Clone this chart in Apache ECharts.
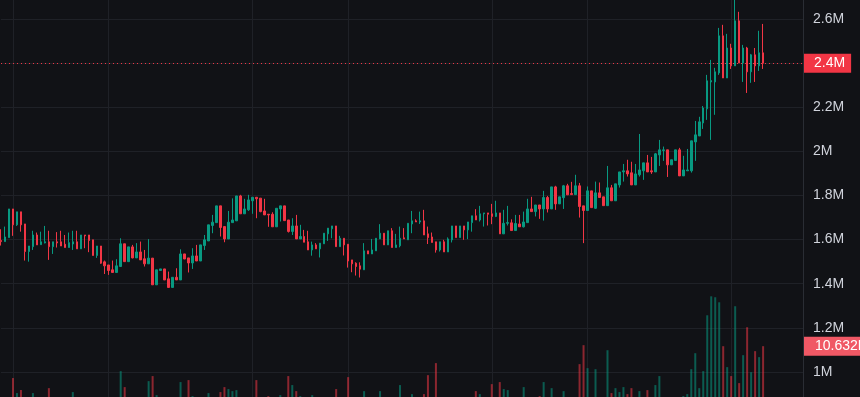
<!DOCTYPE html>
<html>
<head>
<meta charset="utf-8">
<script src="https://cdn.jsdelivr.net/npm/echarts@6/dist/echarts.min.js"></script>
<style>
    html, body { margin: 0; padding: 0; background: #111216; }
    #chart { width: 860px; height: 397px; }
</style>
</head>
<body>
<div id="chart"></div>
<script>
// Daily candles, [open, close, low, high], in thousands
const ohlc = [
    [1596, 1591, 1573, 1647], [1591, 1612, 1591, 1659], [1609, 1739, 1609, 1739], [1739, 1667, 1617, 1739],
    [1667, 1726, 1662, 1726], [1726, 1667, 1636, 1726], [1671, 1546, 1505, 1671], [1546, 1571, 1500, 1571],
    [1568, 1621, 1553, 1640], [1621, 1576, 1576, 1632], [1577, 1590, 1577, 1636], [1585, 1590, 1583, 1662],
    [1590, 1568, 1508, 1640], [1568, 1590, 1535, 1590], [1590, 1585, 1564, 1634], [1590, 1571, 1571, 1640],
    [1579, 1564, 1564, 1621], [1564, 1586, 1564, 1632], [1580, 1590, 1553, 1640], [1590, 1558, 1558, 1640],
    [1558, 1621, 1558, 1621], [1621, 1617, 1561, 1621], [1621, 1596, 1543, 1621], [1599, 1528, 1528, 1599],
    [1528, 1571, 1517, 1571], [1571, 1493, 1490, 1571], [1499, 1481, 1444, 1505], [1485, 1460, 1440, 1485],
    [1463, 1451, 1451, 1505], [1451, 1481, 1451, 1511], [1478, 1581, 1478, 1606], [1581, 1500, 1500, 1581],
    [1500, 1567, 1500, 1567], [1567, 1517, 1515, 1576], [1517, 1544, 1517, 1584], [1544, 1508, 1508, 1591],
    [1513, 1490, 1478, 1553], [1490, 1516, 1490, 1602], [1516, 1395, 1395, 1516], [1395, 1463, 1395, 1463],
    [1460, 1467, 1460, 1467], [1467, 1417, 1417, 1467], [1422, 1383, 1383, 1455], [1383, 1429, 1383, 1429],
    [1429, 1417, 1417, 1470], [1417, 1535, 1417, 1556], [1535, 1512, 1512, 1535], [1517, 1494, 1451, 1517],
    [1494, 1526, 1467, 1561], [1526, 1503, 1503, 1576], [1503, 1576, 1503, 1576], [1573, 1599, 1553, 1621],
    [1594, 1667, 1594, 1667], [1664, 1679, 1629, 1712], [1677, 1753, 1677, 1753], [1753, 1655, 1614, 1753],
    [1659, 1603, 1588, 1659], [1603, 1679, 1603, 1730], [1677, 1689, 1677, 1787], [1685, 1798, 1685, 1798],
    [1798, 1717, 1717, 1803], [1717, 1739, 1717, 1785], [1735, 1780, 1730, 1803], [1776, 1792, 1717, 1792],
    [1792, 1785, 1697, 1792], [1788, 1727, 1724, 1788], [1730, 1712, 1712, 1785], [1715, 1712, 1658, 1715],
    [1715, 1658, 1658, 1724], [1658, 1742, 1658, 1742], [1739, 1753, 1682, 1753], [1753, 1686, 1686, 1753],
    [1689, 1637, 1632, 1689], [1637, 1662, 1621, 1697], [1662, 1603, 1603, 1712], [1603, 1614, 1603, 1667],
    [1614, 1588, 1588, 1644], [1590, 1553, 1553, 1640], [1553, 1576, 1527, 1591], [1576, 1558, 1558, 1584],
    [1558, 1584, 1519, 1584], [1581, 1629, 1581, 1629], [1626, 1652, 1594, 1652], [1649, 1662, 1606, 1662],
    [1662, 1568, 1568, 1662], [1568, 1606, 1568, 1617], [1606, 1576, 1528, 1606], [1579, 1503, 1473, 1579],
    [1508, 1490, 1452, 1508], [1493, 1478, 1437, 1497], [1481, 1466, 1428, 1497], [1463, 1549, 1463, 1584],
    [1549, 1535, 1535, 1549], [1535, 1553, 1535, 1603], [1549, 1606, 1549, 1606], [1603, 1629, 1603, 1670],
    [1629, 1576, 1576, 1629], [1576, 1640, 1576, 1640], [1640, 1564, 1564, 1652], [1564, 1576, 1564, 1626],
    [1572, 1606, 1565, 1659], [1608, 1603, 1603, 1652], [1599, 1674, 1599, 1674], [1671, 1685, 1629, 1730],
    [1685, 1680, 1680, 1692], [1680, 1685, 1671, 1727], [1685, 1621, 1621, 1735], [1626, 1609, 1580, 1659],
    [1612, 1587, 1587, 1632], [1590, 1553, 1541, 1590], [1553, 1590, 1546, 1590], [1590, 1544, 1544, 1599],
    [1544, 1603, 1544, 1610], [1599, 1662, 1587, 1662], [1662, 1609, 1609, 1662], [1609, 1662, 1609, 1662],
    [1662, 1644, 1599, 1662], [1644, 1680, 1602, 1680], [1677, 1708, 1636, 1708], [1708, 1689, 1689, 1738],
    [1689, 1717, 1682, 1753], [1717, 1721, 1659, 1721], [1721, 1715, 1664, 1721], [1717, 1705, 1670, 1762],
    [1705, 1721, 1702, 1776], [1721, 1626, 1626, 1721], [1626, 1674, 1626, 1735], [1674, 1677, 1664, 1753],
    [1676, 1641, 1641, 1692], [1641, 1673, 1641, 1712], [1671, 1658, 1658, 1712], [1658, 1680, 1655, 1727],
    [1677, 1739, 1677, 1785], [1739, 1727, 1727, 1794], [1727, 1757, 1705, 1757], [1757, 1739, 1694, 1757],
    [1739, 1791, 1686, 1821], [1791, 1739, 1723, 1798], [1739, 1839, 1739, 1839], [1839, 1762, 1735, 1844],
    [1762, 1794, 1762, 1794], [1790, 1844, 1739, 1848], [1844, 1803, 1803, 1853], [1809, 1804, 1804, 1862],
    [1804, 1844, 1804, 1894], [1844, 1750, 1700, 1857], [1753, 1732, 1584, 1753], [1732, 1821, 1732, 1841],
    [1821, 1745, 1745, 1821], [1742, 1812, 1739, 1863], [1812, 1791, 1791, 1859], [1794, 1754, 1754, 1794],
    [1754, 1835, 1754, 1934], [1835, 1776, 1776, 1848], [1776, 1853, 1776, 1853], [1848, 1907, 1836, 1907],
    [1907, 1912, 1863, 1943], [1912, 1898, 1886, 1962], [1903, 1848, 1848, 1953], [1848, 1898, 1848, 1943],
    [1894, 1916, 1886, 2079], [1912, 1948, 1871, 1948], [1948, 1907, 1907, 1984], [1912, 1907, 1898, 1975],
    [1907, 1989, 1907, 1993], [1984, 2007, 1934, 2052], [2004, 2007, 1957, 2022], [2007, 1939, 1884, 2007],
    [1939, 1962, 1939, 1962], [1959, 2007, 1959, 2007], [2007, 1889, 1889, 2016], [1889, 1916, 1889, 1980],
    [1912, 1916, 1912, 2011], [1912, 2048, 1904, 2048], [2043, 2075, 1957, 2138], [2070, 2134, 2070, 2157],
    [2129, 2197, 2102, 2206], [2193, 2320, 2143, 2347], [2315, 2321, 2052, 2415], [2315, 2361, 2166, 2379],
    [2356, 2524, 2347, 2560], [2524, 2333, 2333, 2574], [2333, 2469, 2333, 2533], [2469, 2388, 2374, 2488],
    [2388, 2592, 2388, 2687], [2592, 2401, 2401, 2633], [2401, 2469, 2315, 2483], [2469, 2361, 2265, 2474],
    [2361, 2438, 2311, 2442], [2438, 2388, 2315, 2469], [2388, 2447, 2365, 2547], [2447, 2400, 2374, 2578]
];

// Volume per candle, in millions
const volumes = [
    3.8, 4.1, 4.4, 6.9, 5.14, 5.5, 4.3, 3.9, 5.14, 3.5,
    3.2, 3.6, 5.72, 3.4, 3.1, 3.3, 2.9, 3.5, 5.26, 3.7,
    4.2, 3.0, 3.8, 4.3, 3.6, 4.4, 3.9, 3.7, 3.2, 3.5,
    7.71, 5.84, 4.2, 3.6, 3.3, 3.9, 4.1, 6.54, 7.13, 4.9,
    3.1, 4.0, 4.3, 3.8, 3.4, 6.43, 3.7, 6.66, 4.79, 3.9,
    4.2, 3.6, 5.14, 3.8, 4.4, 5.26, 5.84, 5.61, 5.37, 5.49,
    4.3, 3.5, 4.1, 3.7, 6.66, 4.2, 3.6, 4.79, 4.0, 4.4,
    4.9, 4.1, 7.13, 6.08, 5.37, 4.79, 3.8, 4.3, 4.9, 3.4,
    4.1, 4.0, 3.6, 3.3, 5.61, 3.9, 4.2, 7.01, 4.4, 4.0,
    4.3, 5.37, 3.5, 3.8, 4.2, 5.37, 3.9, 4.1, 4.4, 3.6,
    6.08, 3.7, 4.3, 5.02, 3.2, 3.5, 5.02, 7.24, 4.4, 8.65,
    4.2, 4.0, 4.3, 4.1, 3.8, 3.6, 3.4, 4.2, 4.0, 5.37,
    5.02, 3.5, 3.3, 6.19, 4.2, 6.43, 5.61, 5.49, 4.1, 3.9,
    3.6, 5.84, 4.4, 3.8, 3.7, 4.79, 6.43, 4.2, 5.72, 4.4,
    4.1, 5.37, 4.0, 3.6, 4.3, 8.53, 10.75, 8.06, 4.5, 7.94,
    4.2, 4.4, 10.16, 5.14, 5.72, 5.26, 5.84, 5.02, 5.72, 4.3,
    5.37, 4.4, 5.49, 4.0, 6.08, 7.13, 4.2, 4.4, 3.9, 4.1,
    4.5, 4.79, 5.02, 7.94, 9.81, 5.72, 7.71, 14.25, 16.47, 16.36,
    15.77, 10.63, 8.18, 7.13, 15.31, 6.31, 9.58, 12.85, 7.59, 10.05,
    9.35, 10.632
];

// candle indexes where the time scale draws a vertical grid line
const gridDays = [3, 27, 63, 87, 123, 147, 183];

const UP = '#089981';
const DOWN = '#f23645';
const FONT = '"Liberation Sans", Arial, sans-serif';
const EMPTY_SLOTS = 10; // free room to the right of the last candle

const categories = [];
for (let i = 0; i < ohlc.length + EMPTY_SLOTS; i++) categories.push('d' + i);

const lastClose = ohlc[ohlc.length - 1][1];
const lastVolume = volumes[volumes.length - 1];

const volumeData = volumes.map((v, i) => ({
    value: v,
    itemStyle: {
        color: ohlc[i][1] >= ohlc[i][0] ? 'rgba(8,153,129,0.55)' : 'rgba(242,54,69,0.55)'
    }
}));

const chart = echarts.init(document.getElementById('chart'), null, { renderer: 'canvas' });

chart.setOption({
    backgroundColor: '#111216',
    animation: false,
    grid: [
        // the chart is cropped: price and volume panes run past the canvas edges
        { left: 1, right: 57, top: -25, bottom: -19, outerBoundsMode: 'none', containLabel: false },
        { left: 1, right: 57, top: 232, bottom: -40, outerBoundsMode: 'none', containLabel: false }
    ],
    xAxis: [
        {
            type: 'category',
            data: categories,
            boundaryGap: false,
            gridIndex: 0,
            axisLine: { show: false },
            axisTick: { show: false },
            axisLabel: { show: false },
            splitLine: {
                show: true,
                interval: (idx) => gridDays.includes(idx),
                lineStyle: { color: '#1f2127', width: 1 }
            }
        },
        {
            type: 'category',
            data: categories,
            boundaryGap: false,
            gridIndex: 1,
            show: false
        }
    ],
    yAxis: [
        {
            type: 'value',
            gridIndex: 0,
            position: 'right',
            min: 800,
            max: 2800,
            interval: 200,
            axisLine: { show: true, lineStyle: { color: '#2a2d34' } },
            axisTick: { show: false },
            axisLabel: {
                margin: 10,
                color: '#d1d4dc',
                fontSize: 14,
                fontFamily: FONT,
                formatter: (v) => (v / 1000) + 'M'
            },
            splitLine: { lineStyle: { color: '#1f2127', width: 1 } }
        },
        {
            type: 'value',
            gridIndex: 1,
            min: 0,
            max: 24,
            show: false,
            splitLine: { show: false }
        }
    ],
    series: [
        {
            type: 'bar',
            xAxisIndex: 1,
            yAxisIndex: 1,
            data: volumeData,
            barWidth: 2,
            silent: true,
            z: 1,
            markLine: {
                silent: true,
                symbol: 'none',
                lineStyle: { color: 'rgba(0,0,0,0)', width: 1 },
                label: {
                    show: true,
                    position: 'end',
                    distance: 1,
                    formatter: () => lastVolume.toFixed(3) + 'M',
                    color: '#ffffff',
                    backgroundColor: '#f05865',
                    fontSize: 14,
                    fontFamily: FONT,
                    lineHeight: 15,
                    padding: [2, 6, 2, 11]
                },
                data: [{ yAxis: lastVolume }]
            }
        },
        {
            type: 'candlestick',
            xAxisIndex: 0,
            yAxisIndex: 0,
            data: ohlc,
            barWidth: 2,
            silent: true,
            z: 3,
            itemStyle: {
                color: UP,
                color0: DOWN,
                borderColor: UP,
                borderColor0: DOWN,
                borderWidth: 1
            },
            markLine: {
                silent: true,
                symbol: 'none',
                lineStyle: { color: DOWN, type: [1, 3], width: 1 },
                label: {
                    position: 'end',
                    distance: 1,
                    formatter: () => (lastClose / 1000).toFixed(1) + 'M',
                    color: '#ffffff',
                    backgroundColor: DOWN,
                    fontSize: 14,
                    fontFamily: FONT,
                    lineHeight: 15,
                    padding: [2, 6, 2, 10]
                },
                data: [{ yAxis: lastClose }]
            }
        }
    ]
});
</script>
</body>
</html>
